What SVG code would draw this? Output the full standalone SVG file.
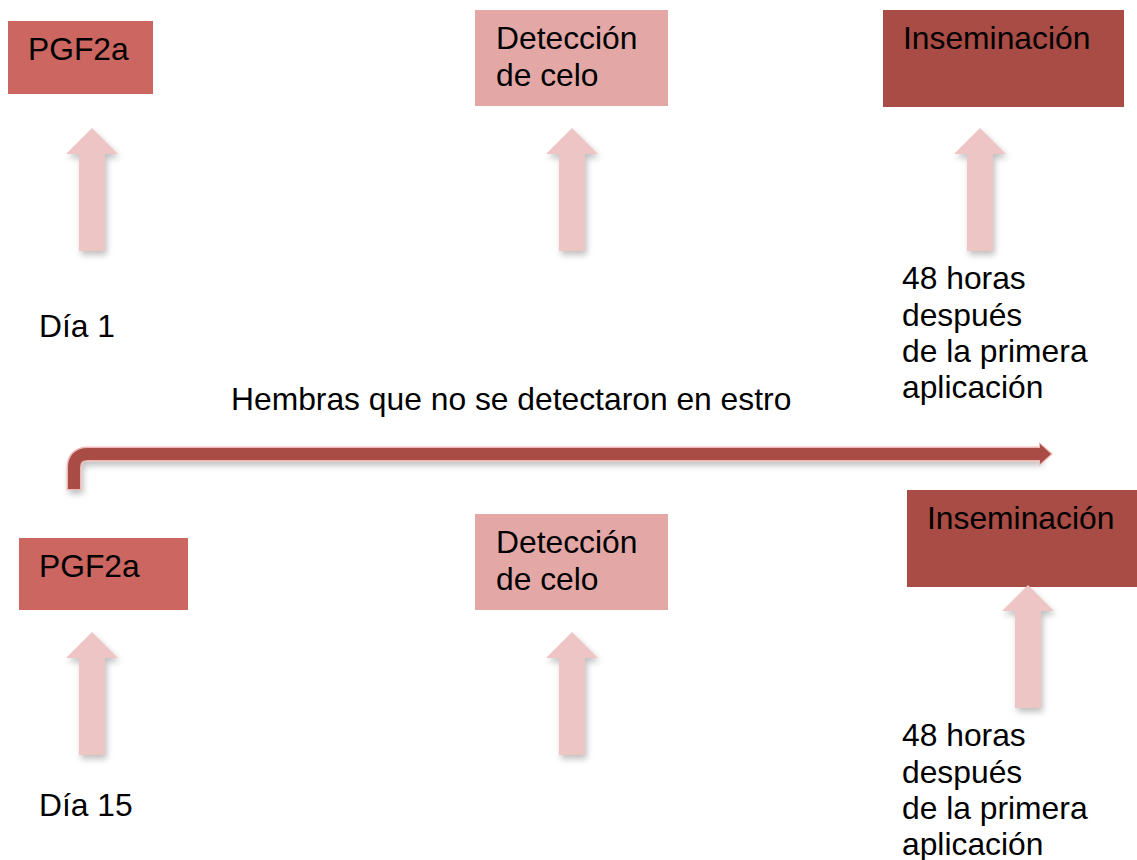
<svg xmlns="http://www.w3.org/2000/svg" width="1137" height="860" viewBox="0 0 1137 860">
<defs>
<style>
text{font-family:"Liberation Sans",Arial,sans-serif;font-size:31.8px;fill:#000}
.pgf{fill:#cc6660}
.det{fill:#e3a8a6}
.ins{fill:#a84c45}
.up{fill:#ecc5c4;filter:url(#sh)}
</style>
<filter id="sh" x="-30%" y="-20%" width="160%" height="150%">
<feGaussianBlur in="SourceAlpha" stdDeviation="3"/>
<feOffset dx="2" dy="4" result="b"/>
<feComponentTransfer><feFuncA type="linear" slope="0.25"/></feComponentTransfer>
<feMerge><feMergeNode/><feMergeNode in="SourceGraphic"/></feMerge>
</filter>
<path id="upArrow" d="M0 0 L26 26 L13 26 L13 123 L-13 123 L-13 26 L-26 26 Z"/>
</defs>
<rect width="1137" height="860" fill="#fff"/>

<g id="pgf2a-top"><rect class="pgf" x="8" y="21" width="145" height="73"/><text x="28" y="60">PGF2a</text></g>
<g id="deteccion-top"><rect class="det" x="475" y="10" width="193" height="96"/><text x="496" y="49">Detección</text><text x="496" y="86">de celo</text></g>
<g id="inseminacion-top"><rect class="ins" x="883" y="10" width="241" height="97"/><text x="903" y="49">Inseminación</text></g>

<g id="arrow-top-1"><use href="#upArrow" class="up" x="92" y="128"/></g>
<g id="arrow-top-2"><use href="#upArrow" class="up" x="572" y="128"/></g>
<g id="arrow-top-3"><use href="#upArrow" class="up" x="980" y="128"/></g>

<g id="dia-1"><text x="39" y="337">Día 1</text></g>
<g id="nota-top"><text x="902" y="289">48 horas</text><text x="902" y="325.5">después</text><text x="902" y="362">de la primera</text><text x="902" y="398">aplicación</text></g>

<g id="label-hembras"><text x="231" y="410">Hembras que no se detectaron en estro</text></g>

<g id="connectors">
<path d="M74 490 L74 468 Q74 454 88 454 L1041 454" fill="none" stroke="#f0b8b4" stroke-width="15" filter="url(#sh)"/>
<polygon points="1039,442 1053,454 1039,466" fill="#f0b8b4"/>
<path d="M74 489 L74 468 Q74 454 88 454 L1041 454" fill="none" stroke="#a84c45" stroke-width="12"/>
<polygon points="1040,444 1051,454 1040,464" fill="#a84c45"/>
</g>

<g id="pgf2a-bottom"><rect class="pgf" x="19" y="538" width="169" height="72"/><text x="39" y="577">PGF2a</text></g>
<g id="deteccion-bottom"><rect class="det" x="475" y="514" width="193" height="96"/><text x="496" y="553">Detección</text><text x="496" y="590">de celo</text></g>
<g id="inseminacion-bottom"><rect class="ins" x="907" y="490" width="230" height="97"/><text x="927" y="529">Inseminación</text></g>

<g id="arrow-bottom-1"><use href="#upArrow" class="up" x="92" y="632"/></g>
<g id="arrow-bottom-2"><use href="#upArrow" class="up" x="572" y="632"/></g>
<g id="arrow-bottom-3"><use href="#upArrow" class="up" x="1028" y="585"/></g>

<g id="dia-15"><text x="39" y="816">Día 15</text></g>
<g id="nota-bottom"><text x="902" y="746">48 horas</text><text x="902" y="782.5">después</text><text x="902" y="819">de la primera</text><text x="902" y="855">aplicación</text></g>
</svg>
